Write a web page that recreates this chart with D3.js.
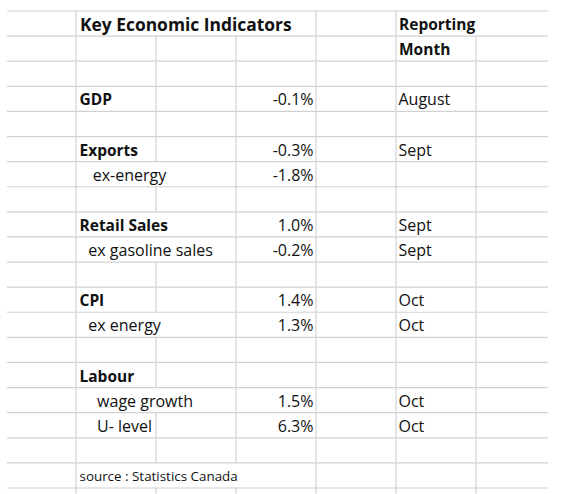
<!DOCTYPE html>
<html>
<head>
<meta charset="utf-8">
<script src="https://cdn.jsdelivr.net/npm/d3@7"></script>
<style>
  html, body { margin: 0; padding: 0; background: #fff; }
  text { font-family: "Open Sans", Lato, sans-serif; fill: #111; }
</style>
</head>
<body>
<svg id="sheet" width="561" height="494"></svg>
<script>
// table content
const title = "Key Economic Indicators";
const monthHeader = ["Reporting", "Month"];
const indicators = ["GDP", "Exports", "   ex-energy", "Retail Sales", "  ex gasoline sales",
                    "CPI", "  ex energy", "Labour", "    wage growth", "    U- level"];
const sheetRows = [3, 5, 6, 8, 9, 11, 12, 14, 15, 16];
const changes = [-0.1, -0.3, -1.8, 1.0, -0.2, 1.4, 1.3, null, 1.5, 6.3];
const months = ["August", "Sept", "", "Sept", "Sept", "Oct", "Oct", "", "Oct", "Oct"];
const source = "source : Statistics Canada";
const sourceRow = 18;

const svg = d3.select("#sheet");
const nRows = 19;
const colEdges = [7, 76, 156, 236, 316, 396, 476, 548];
const y = d3.scaleLinear().domain([0, nRows]).range([11, 488]);
// excel shows a plain hyphen for negatives
const fmt = d3.formatLocale({ decimal: ".", thousands: ",", grouping: [3], currency: ["", ""], minus: "-" }).format(".1f");
const spaceW = 4.4;

const gridG = svg.append("g");
const textG = svg.append("g");

// list of [row, xStart, xEnd] where text spills over the cell borders
const covered = [];

function cellText(row, x, str, opts) {
    opts = opts || {};
    const lead = str.length - str.trimStart().length;
    const t = textG.append("text")
        .attr("x", x + lead * spaceW)
        .attr("y", y(row + 1) - (opts.dy || 6))
        .attr("text-anchor", opts.anchor || "start")
        .attr("font-size", opts.size || (opts.bold ? 15.5 : 16))
        .attr("font-weight", opts.bold ? "bold" : "normal")
        .text(str.trim());
    if (!opts.anchor) {
        const w = t.node().getComputedTextLength();
        covered.push([row, x + lead * spaceW, x + lead * spaceW + w + 3]);
    }
    return t;
}

cellText(0, 80, title, { bold: true, size: 17.4, dy: 5 });
cellText(0, 399, monthHeader[0], { bold: true });
cellText(1, 399, monthHeader[1], { bold: true });

indicators.forEach((lab, i) => {
    const r = sheetRows[i];
    const bold = lab === lab.trimStart();
    cellText(r, 79.5, lab, { bold: bold });
    if (changes[i] !== null) cellText(r, 313.5, fmt(changes[i]) + "%", { anchor: "end" });
    if (months[i]) cellText(r, 398.5, months[i]);
});

cellText(sourceRow, 79.5, source, { size: 13.4, dy: 7 });

// horizontal gridlines
gridG.selectAll("line.h")
    .data(d3.range(nRows + 1))
    .join("line")
    .attr("x1", colEdges[0])
    .attr("x2", colEdges[colEdges.length - 1])
    .attr("y1", d => y(d))
    .attr("y2", d => y(d))
    .attr("stroke", "#d2d2d2")
    .attr("stroke-width", 1.2);

// vertical gridlines, cut where text overflows
const segs = [];
colEdges.slice(1, -1).forEach(cx => {
    for (let r = 0; r <= nRows; r++) {
        const hidden = covered.some(c => c[0] === r && cx > c[1] && cx < c[2]);
        if (!hidden) segs.push({ x: cx, y1: y(r), y2: r === nRows ? 494 : y(r + 1) });
    }
});
gridG.selectAll("line.v")
    .data(segs)
    .join("line")
    .attr("x1", d => d.x)
    .attr("x2", d => d.x)
    .attr("y1", d => d.y1)
    .attr("y2", d => d.y2)
    .attr("stroke", "#d2d2d2")
    .attr("stroke-width", 1.2);
</script>
</body>
</html>
